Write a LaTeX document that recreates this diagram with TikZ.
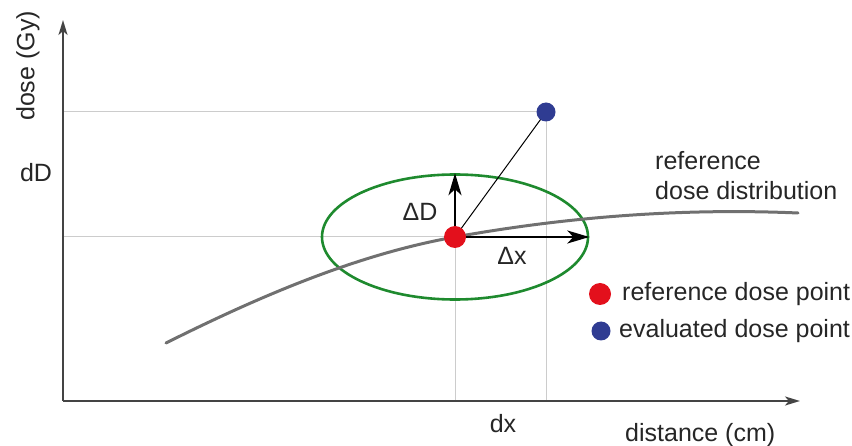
\documentclass[tikz,border=0pt]{standalone}
\usepackage{fontspec}
\setmainfont{Liberation Sans}
\usetikzlibrary{arrows.meta,shapes.geometric}
\definecolor{axisgray}{HTML}{444444}
\definecolor{guidegray}{HTML}{CCCCCC}
\definecolor{curvegray}{HTML}{707070}
\definecolor{ellgreen}{HTML}{1E8A2E}
\definecolor{dotred}{HTML}{E3101C}
\definecolor{dotblue}{HTML}{2F3C92}
\definecolor{txt}{HTML}{262626}
\begin{document}
\begin{tikzpicture}[x=1pt,y=-1pt,
  lbl/.style={font=\fontsize{25}{30}\selectfont, text=txt, inner sep=0pt},
  axis/.style={draw=axisgray, line width=2pt, -{Stealth[length=15pt,width=9pt,inset=4pt]}},
  guide/.style={draw=guidegray, line width=1pt},
  dcurve/.style={draw=curvegray, line width=3pt, line cap=round},
  vec/.style={draw=black, line width=2pt, -{Stealth[length=22pt,width=13pt,inset=6pt]}},
  conn/.style={draw=black, line width=1pt},
  reddot/.style={circle, fill=dotred, inner sep=0pt, minimum size=22pt},
  bluedot/.style={circle, fill=dotblue, inner sep=0pt, minimum size=19pt},
  tolell/.style={ellipse, draw=ellgreen, line width=2.6pt, inner sep=0pt, minimum width=266pt, minimum height=125pt}
]
\useasboundingbox (0,0) rectangle (852,446);
% key points
\coordinate (O) at (63,401);
\coordinate (ytip) at (63,20);
\coordinate (xtip) at (800,401);
\coordinate (pr) at (455,237);
\coordinate (pb) at (546,112);
\coordinate (cstart) at (166,343);
\coordinate (cend) at (798,213);
% guides
\draw[guide] (O |- pb) -- (pb);
\draw[guide] (O |- pr) -- (pr);
\draw[guide] (pr) -- (pr |- O);
\draw[guide] (pb) -- (pb |- O);
% axes
\draw[axis] (O) -- (ytip);
\draw[axis] (O) -- (xtip);
% tolerance ellipse
\node[tolell] (ell) at (pr) {};
% reference dose distribution curve
\draw[dcurve] (cstart) .. controls (262,295) and (359,254) .. (pr)
  .. controls (569,216.5) and (684,208) .. (cend);
% connector to evaluated point
\draw[conn] (pr) -- (pb);
% vectors
\draw[vec] (pr) -- (ell.north);
\draw[vec] (pr) -- (ell.east);
% dots
\node[reddot] (r) at (pr) {};
\node[bluedot] (b) at (pb) {};
% labels
\node[lbl, rotate=90] (ylab) at (28,66) {dose (Gy)};
\node[lbl] (dD) at (36,173) {dD};
\node[lbl] (dx) at (503,424) {dx};
\node[lbl, anchor=west] (xlab) at (625,435) {distance (cm)};
\node[lbl] (lD) at (420,212) {ΔD};
\node[lbl] (lx) at (512,256) {Δx};
\node[lbl, anchor=west, align=left] (reflab) at (655,176) {reference\\dose distribution};
% legend
\node[reddot] (legr) at (600,294) {};
\node[lbl, anchor=west] (legrt) at (622,294) {reference dose point};
\node[bluedot] (legb) at (601,331) {};
\node[lbl, anchor=west] (legbt) at (619,331) {evaluated dose point};
\end{tikzpicture}
\end{document}
